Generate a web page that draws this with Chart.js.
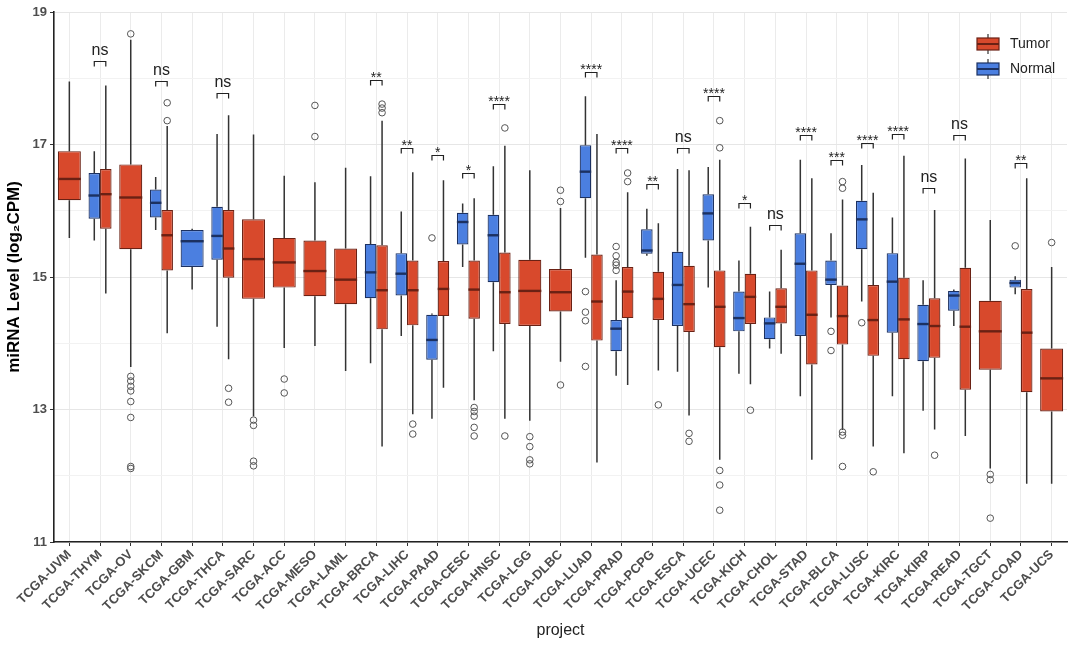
<!DOCTYPE html>
<html>
<head>
<meta charset="utf-8">
<script src="https://cdn.jsdelivr.net/npm/chart.js@4.4.1/dist/chart.umd.min.js"></script>
<style>
html, body { margin: 0; background: #fff; }
#wrap { width: 1080px; height: 648px; }
</style>
</head>
<body>
<div id="wrap"><canvas id="chart" width="1080" height="648"></canvas></div>
<script>
// categories on the x axis
const projects = [
    "TCGA-UVM", "TCGA-THYM", "TCGA-OV", "TCGA-SKCM", "TCGA-GBM", "TCGA-THCA",
    "TCGA-SARC", "TCGA-ACC", "TCGA-MESO", "TCGA-LAML", "TCGA-BRCA", "TCGA-LIHC",
    "TCGA-PAAD", "TCGA-CESC", "TCGA-HNSC", "TCGA-LGG", "TCGA-DLBC", "TCGA-LUAD",
    "TCGA-PRAD", "TCGA-PCPG", "TCGA-ESCA", "TCGA-UCEC", "TCGA-KICH", "TCGA-CHOL",
    "TCGA-STAD", "TCGA-BLCA", "TCGA-LUSC", "TCGA-KIRC", "TCGA-KIRP", "TCGA-READ",
    "TCGA-TGCT", "TCGA-COAD", "TCGA-UCS"
];

// [lower whisker, Q1, median, Q3, upper whisker]
const tumorBox = [
    [15.59, 16.16, 16.48, 16.90, 17.95],
    [14.75, 15.73, 16.25, 16.63, 17.89],
    [13.64, 15.42, 16.20, 16.70, 18.58],
    [14.15, 15.10, 15.63, 16.01, 17.28],
    null,
    [13.76, 14.99, 15.43, 16.01, 17.44],
    [12.90, 14.67, 15.27, 15.87, 17.15],
    [13.93, 14.84, 15.22, 15.59, 16.53],
    [13.96, 14.71, 15.09, 15.55, 16.43],
    [13.58, 14.59, 14.96, 15.43, 16.65],
    [12.44, 14.21, 14.80, 15.48, 17.36],
    [12.93, 14.27, 14.80, 15.25, 16.58],
    [13.33, 14.41, 14.82, 15.24, 16.46],
    [13.14, 14.37, 14.81, 15.25, 16.19],
    [12.86, 14.29, 14.77, 15.37, 16.98],
    [12.83, 14.26, 14.79, 15.26, 16.61],
    [13.72, 14.48, 14.77, 15.12, 16.04],
    [12.20, 14.04, 14.63, 15.34, 17.16],
    [13.37, 14.38, 14.78, 15.15, 16.28],
    [13.59, 14.35, 14.67, 15.08, 15.81],
    [12.91, 14.17, 14.59, 15.17, 16.61],
    [12.24, 13.94, 14.55, 15.10, 16.77],
    [13.38, 14.29, 14.70, 15.05, 15.76],
    [13.84, 14.30, 14.55, 14.83, 15.41],
    [12.24, 13.68, 14.43, 15.10, 16.49],
    [12.69, 13.98, 14.41, 14.87, 16.17],
    [12.44, 13.81, 14.35, 14.88, 16.27],
    [12.34, 13.76, 14.36, 14.99, 16.83],
    [12.70, 13.78, 14.26, 14.68, 16.01],
    [12.60, 13.30, 14.25, 15.14, 16.79],
    [12.11, 13.60, 14.18, 14.64, 15.86],
    [11.88, 13.26, 14.16, 14.82, 16.49],
    [11.88, 12.97, 13.47, 13.92, 15.15]
];

const normalBox = [
    null,
    [15.55, 15.88, 16.23, 16.57, 16.90],
    null,
    [15.71, 15.90, 16.12, 16.32, 16.51],
    [14.81, 15.15, 15.54, 15.71, 15.73],
    [14.25, 15.26, 15.62, 16.06, 17.16],
    null, null, null, null,
    [13.70, 14.68, 15.07, 15.50, 16.52],
    [14.11, 14.72, 15.05, 15.36, 15.99],
    [12.86, 13.75, 14.05, 14.43, 14.45],
    [15.15, 15.49, 15.83, 15.97, 16.11],
    [13.88, 14.92, 15.63, 15.94, 16.67],
    null, null,
    [15.29, 16.19, 16.59, 16.99, 17.73],
    [13.51, 13.88, 14.22, 14.35, 14.95],
    [15.32, 15.35, 15.40, 15.72, 16.03],
    [13.57, 14.26, 14.88, 15.38, 16.63],
    [14.84, 15.55, 15.96, 16.25, 16.66],
    [13.54, 14.18, 14.38, 14.78, 15.25],
    [13.92, 14.06, 14.30, 14.39, 14.78],
    [13.20, 14.11, 15.20, 15.66, 16.77],
    [14.39, 14.88, 14.96, 15.25, 15.66],
    [14.63, 15.42, 15.87, 16.15, 16.69],
    [13.20, 14.16, 14.93, 15.36, 15.90],
    [12.98, 13.73, 14.29, 14.58, 14.95],
    [14.26, 14.49, 14.72, 14.79, 14.81],
    null,
    [14.74, 14.84, 14.91, 14.96, 15.01],
    null
];

const tumorOutliers = [
    [], [], [18.67, 13.50, 13.43, 13.35, 13.28, 13.12, 12.88, 12.14, 12.11],
    [17.63, 17.36], [], [13.32, 13.11], [12.84, 12.76, 12.22, 12.15],
    [13.46, 13.25], [17.59, 17.12], [], [17.61, 17.55, 17.48], [12.78, 12.63],
    [], [13.03, 12.97, 12.90, 12.73, 12.60], [17.25, 12.60],
    [12.59, 12.44, 12.24, 12.18], [16.31, 16.14, 13.37], [], [16.57, 16.44],
    [13.07], [12.64, 12.52], [17.36, 16.95, 12.08, 11.86, 11.48], [12.99], [],
    [], [16.44, 16.34, 12.66, 12.61, 12.14], [12.06], [], [12.31], [],
    [12.02, 11.94, 11.36], [], [15.52]
];

const normalOutliers = [
    [], [], [], [], [], [], [], [], [], [], [], [],
    [15.59], [], [], [], [], [14.78, 14.47, 14.34, 13.65],
    [15.46, 15.32, 15.22, 15.18, 15.10], [], [], [], [], [], [],
    [14.18, 13.89], [14.31], [], [], [], [], [15.47], []
];

// significance label and bracket height per project
const sigLabels = [
    null, "ns", null, "ns", null, "ns", null, null, null, null, "**", "**",
    "*", "*", "****", null, null, "****", "****", "**", "ns", "****", "*", "ns",
    "****", "***", "****", "****", "ns", "ns", null, "**", null
];
const sigY = [
    null, 18.26, null, 17.96, null, 17.78, null, null, null, null, 17.97, 16.95,
    16.84, 16.57, 17.61, null, null, 18.10, 16.94, 16.41, 16.95, 17.73, 16.12, 15.78,
    17.14, 16.77, 17.03, 17.16, 16.35, 17.14, null, 16.72, null
];

const yTicks = [11, 13, 15, 17, 19];

const groups = ["Normal", "Tumor"];
const fillColors = ["#4b7fe0", "#d8492c"];
const lineColors = ["#1c3161", "#6a2114"];

const statsByGroup = [normalBox, tumorBox];
const outliersByGroup = [normalOutliers, tumorOutliers];

const FONT = "'Liberation Sans', Arial, sans-serif";

function eachBox(chart, fn) {
    chart.data.datasets.forEach((ds, di) => {
        const meta = chart.getDatasetMeta(di);
        meta.data.forEach((bar, j) => {
            const s = statsByGroup[di][j];
            if (!s) return;
            fn(bar, s, outliersByGroup[di][j], di, j);
        });
    });
}

function drawKey(ctx, x, y, di) {
    // little boxplot glyph for the legend
    ctx.strokeStyle = "#333";
    ctx.lineWidth = 1.2;
    ctx.beginPath();
    ctx.moveTo(x + 11, y - 10);
    ctx.lineTo(x + 11, y - 6);
    ctx.moveTo(x + 11, y + 6);
    ctx.lineTo(x + 11, y + 10);
    ctx.stroke();
    ctx.fillStyle = fillColors[di];
    ctx.fillRect(x, y - 6, 22, 12);
    ctx.strokeStyle = lineColors[di];
    ctx.strokeRect(x, y - 6, 22, 12);
    ctx.lineWidth = 2;
    ctx.beginPath();
    ctx.moveTo(x, y);
    ctx.lineTo(x + 22, y);
    ctx.stroke();
}

const boxParts = {
    id: "boxParts",

    beforeDatasetsDraw(chart) {
        const ctx = chart.ctx;
        const y = chart.scales.y;
        ctx.save();
        ctx.strokeStyle = "#333";
        ctx.lineWidth = 1.5;
        eachBox(chart, (bar, s) => {
            ctx.beginPath();
            ctx.moveTo(bar.x, y.getPixelForValue(s[0]));
            ctx.lineTo(bar.x, y.getPixelForValue(s[1]));
            ctx.moveTo(bar.x, y.getPixelForValue(s[3]));
            ctx.lineTo(bar.x, y.getPixelForValue(s[4]));
            ctx.stroke();
        });
        ctx.restore();
    },

    afterDatasetsDraw(chart) {
        const ctx = chart.ctx;
        const y = chart.scales.y;
        ctx.save();

        eachBox(chart, (bar, s, outs, di) => {
            const half = bar.width / 2;
            const py = y.getPixelForValue(s[2]);
            ctx.strokeStyle = lineColors[di];
            ctx.lineWidth = 2.4;
            ctx.beginPath();
            ctx.moveTo(bar.x - half, py);
            ctx.lineTo(bar.x + half, py);
            ctx.stroke();

            ctx.strokeStyle = "#555";
            ctx.lineWidth = 1;
            outs.forEach((v) => {
                ctx.beginPath();
                ctx.arc(bar.x, y.getPixelForValue(v), 3.3, 0, Math.PI * 2);
                ctx.stroke();
            });
        });

        // significance brackets
        const nMeta = chart.getDatasetMeta(0);
        const tMeta = chart.getDatasetMeta(1);
        ctx.strokeStyle = "#222";
        ctx.fillStyle = "#222";
        ctx.lineWidth = 1.2;
        ctx.textAlign = "center";
        sigLabels.forEach((lab, j) => {
            if (!lab) return;
            const x1 = nMeta.data[j].x;
            const x2 = tMeta.data[j].x;
            const py = Math.round(y.getPixelForValue(sigY[j])) + 0.5;
            ctx.beginPath();
            ctx.moveTo(x1, py + 5);
            ctx.lineTo(x1, py);
            ctx.lineTo(x2, py);
            ctx.lineTo(x2, py + 5);
            ctx.stroke();
            if (lab === "ns") {
                ctx.font = "16px " + FONT;
                ctx.fillText(lab, (x1 + x2) / 2, py - 7);
            } else {
                ctx.font = "14px " + FONT;
                ctx.fillText(lab, (x1 + x2) / 2, py + 1);
            }
        });

        // legend, top right inside the panel
        const lx = 977;
        const order = [1, 0];
        ctx.textAlign = "left";
        ctx.textBaseline = "middle";
        ctx.font = "14px " + FONT;
        order.forEach((di, k) => {
            const cy = 44 + k * 25;
            drawKey(ctx, lx, cy, di);
            ctx.fillStyle = "#222";
            ctx.fillText(groups[di], lx + 33, cy);
        });

        ctx.restore();
    }
};

new Chart(document.getElementById("chart"), {
    type: "bar",
    data: {
        labels: projects,
        datasets: groups.map((g, di) => ({
            label: g,
            data: statsByGroup[di].map((s) => (s ? [s[1], s[3]] : null)),
            backgroundColor: fillColors[di],
            borderColor: lineColors[di],
            borderWidth: 1.2,
            borderSkipped: false,
            skipNull: true,
            categoryPercentage: 0.75,
            barPercentage: 1.0
        }))
    },
    options: {
        responsive: false,
        animation: false,
        layout: {
            padding: { left: 2, right: 13, top: 12, bottom: 4 }
        },
        plugins: {
            legend: { display: false },
            tooltip: { enabled: false }
        },
        scales: {
            x: {
                afterFit: (scale) => { scale.height = 102; },
                grid: {
                    offset: false,
                    color: "#ebebeb",
                    tickColor: "#333",
                    tickLength: 4
                },
                border: { display: true, color: "#222", width: 1.6 },
                ticks: {
                    autoSkip: false,
                    maxRotation: 45,
                    minRotation: 45,
                    padding: 1,
                    color: "#4d4d4d",
                    font: { family: FONT, size: 13, weight: "bold" }
                },
                title: {
                    display: true,
                    text: "project",
                    color: "#222",
                    font: { family: FONT, size: 16 }
                }
            },
            y: {
                min: 11,
                max: 19,
                afterFit: (scale) => { scale.width = 52; },
                grid: {
                    color: (c) => (yTicks.includes(c.tick.value) ? "#e6e6e6" : "#f2f2f2"),
                    tickColor: (c) => (yTicks.includes(c.tick.value) ? "#333" : "rgba(0,0,0,0)"),
                    tickLength: 4
                },
                border: { display: true, color: "#222", width: 1.6 },
                ticks: {
                    stepSize: 1,
                    padding: 3,
                    color: "#4d4d4d",
                    font: { family: FONT, size: 13, weight: "bold" },
                    callback: (v) => (yTicks.includes(v) ? v : "")
                },
                title: {
                    display: true,
                    text: "miRNA Level (log\u2082CPM)",
                    color: "#000",
                    padding: { top: 2, bottom: 4 },
                    font: { family: FONT, size: 17, weight: "bold" }
                }
            }
        }
    },
    plugins: [boxParts]
});
</script>
</body>
</html>
